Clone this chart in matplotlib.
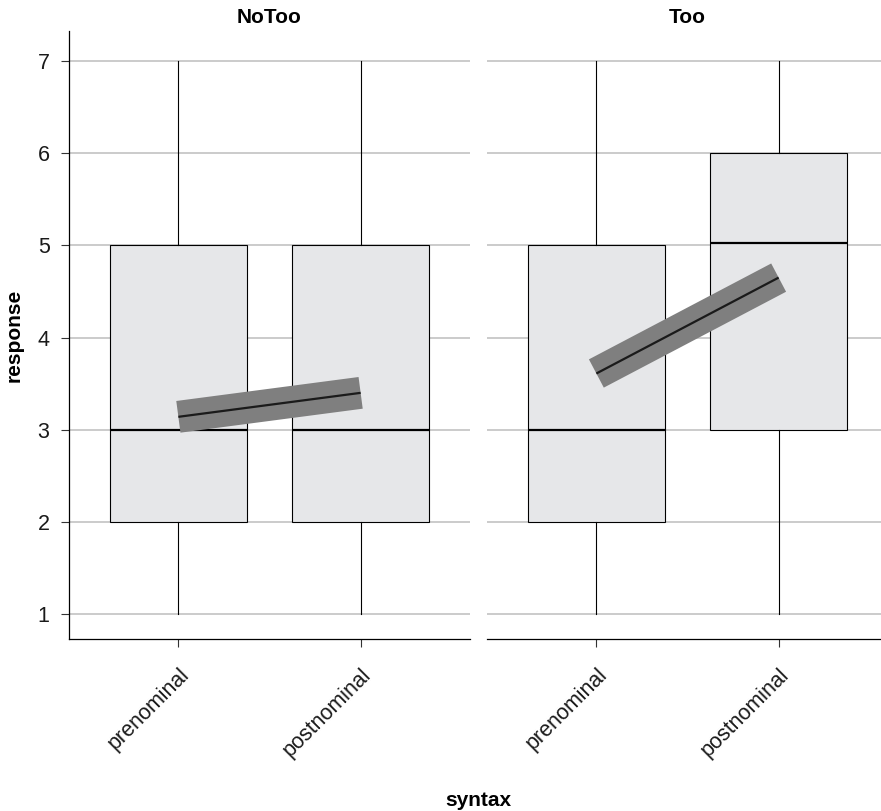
import matplotlib
matplotlib.use("Agg")
import matplotlib.pyplot as plt

plt.rcParams['font.family'] = ['Liberation Sans', 'DejaVu Sans']

panels = ['NoToo', 'Too']
categories = ['prenominal', 'postnominal']
whislo = {'NoToo': [1, 1], 'Too': [1, 1]}
q1 = {'NoToo': [2, 2], 'Too': [2, 3]}
med = {'NoToo': [3, 3], 'Too': [3, 5.03]}
q3 = {'NoToo': [5, 5], 'Too': [5, 6]}
whishi = {'NoToo': [7, 7], 'Too': [7, 7]}
means = {'NoToo': [3.14, 3.40], 'Too': [3.61, 4.65]}
yticks = [1, 2, 3, 4, 5, 6, 7]

W, H = 881, 811
fig = plt.figure(figsize=(W / 100, H / 100), dpi=100)

ax_w = 401 / W
bottom = 1 - 639 / H
height = (639 - 31) / H
lefts = [69 / W, 487 / W]

for i, p in enumerate(panels):
    ax = fig.add_axes([lefts[i], bottom, ax_w, height])
    ax.set_axisbelow(True)
    ax.yaxis.grid(True, color='#bdbdbd', linewidth=1.1)
    stats = []
    for j, c in enumerate(categories):
        stats.append(dict(whislo=whislo[p][j], q1=q1[p][j], med=med[p][j],
                          q3=q3[p][j], whishi=whishi[p][j], fliers=[], label=c))
    positions = [1, 2]
    ax.bxp(stats, positions=positions, widths=0.75, showcaps=False,
           showfliers=False, patch_artist=True,
           boxprops=dict(facecolor='#e6e7e9', edgecolor='black', linewidth=0.8),
           whiskerprops=dict(color='black', linewidth=0.8),
           medianprops=dict(color='black', linewidth=1.6),
           zorder=2)
    ax.plot(positions, means[p], color='#7f7f7f', linewidth=23,
            solid_capstyle='butt', zorder=3)
    ax.plot(positions, means[p], color='#1a1a1a', linewidth=1.6,
            solid_capstyle='butt', zorder=4)
    ax.set_xlim(0.4, 2.6)
    ax.set_ylim(0.73, 7.325)
    ax.set_xticks(positions)
    ax.set_xticklabels(categories, rotation=45, ha='right', va='top',
                       rotation_mode='anchor', fontsize=15.5, color='#1a1a1a')
    ax.set_yticks(yticks)
    ax.tick_params(axis='both', length=6, width=0.8, color='#333333')
    ax.tick_params(axis='x', pad=12)
    for s in ['top', 'right']:
        ax.spines[s].set_visible(False)
    ax.spines['bottom'].set_linewidth(0.9)
    ax.spines['left'].set_linewidth(0.9)
    if i == 0:
        ax.set_yticklabels([str(t) for t in yticks], fontsize=15.5, color='#1a1a1a')
        ax.tick_params(axis='y', pad=8)
        ax.set_ylabel('response', fontsize=15, fontweight='bold', labelpad=10)
    else:
        ax.spines['left'].set_visible(False)
        ax.tick_params(axis='y', left=False, labelleft=False)
    ax.set_title(p, fontsize=15, fontweight='bold', pad=6)

fig.text(478 / W, 1 - 800 / H, 'syntax', fontsize=15, fontweight='bold',
         ha='center', va='center')

fig.savefig('out.png', dpi=100)
